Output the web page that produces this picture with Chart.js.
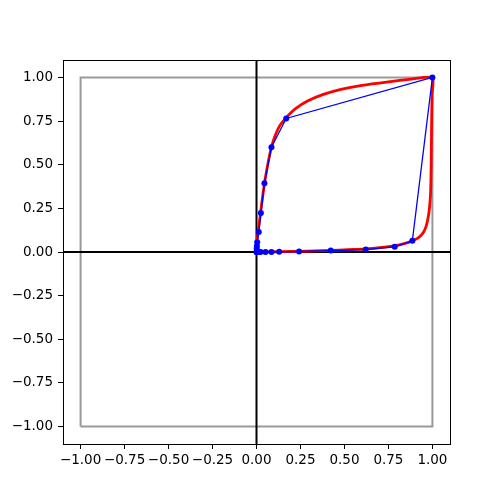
<!DOCTYPE html>
<html>
<head>
<meta charset="utf-8">
<script src="https://cdn.jsdelivr.net/npm/chart.js@4"></script>
<style>
  html, body { margin: 0; padding: 0; background: #fff; }
  canvas { display: block; }
</style>
</head>
<body>
<canvas id="myChart" width="500" height="500"></canvas>
<script>
'use strict';
// smooth curve (red)
const curveX = [0, 0.0005, 0.002, 0.006, 0.012, 0.02, 0.03, 0.045, 0.06, 0.08, 0.1, 0.13, 0.169, 0.22, 0.29, 0.38, 0.48, 0.6, 0.75, 0.88, 1,
  0.998, 0.995, 0.993, 0.99, 0.985, 0.978, 0.965, 0.95, 0.93, 0.91, 0.886, 0.84, 0.786, 0.7, 0.621, 0.52, 0.422, 0.33, 0.242, 0.15, 0.08, 0.03, 0];
const curveY = [0, 0.02, 0.05, 0.09, 0.14, 0.2, 0.28, 0.39, 0.48, 0.58, 0.65, 0.72, 0.77, 0.82, 0.865, 0.903, 0.932, 0.955, 0.975, 0.99, 1,
  0.9, 0.7, 0.5, 0.35, 0.27, 0.21, 0.15, 0.115, 0.09, 0.075, 0.064, 0.048, 0.036, 0.025, 0.018, 0.013, 0.009, 0.006, 0.004, 0.002, 0.001, 0, 0];

// sample points (blue)
const pointX = [0, 0.001, 0.002, 0.004, 0.013, 0.025, 0.045, 0.085, 0.169, 1, 0.886, 0.786, 0.621, 0.422, 0.242, 0.129, 0.085, 0.051, 0.023, 0.01, 0.003, 0];
const pointY = [0, 0.02, 0.035, 0.056, 0.115, 0.223, 0.394, 0.6, 0.765, 1, 0.064, 0.03, 0.014, 0.008, 0.003, 0.001, 0.0005, 0, 0, 0, 0, 0];

// square and axis lines
const squareX = [-1, 1, 1, -1, -1];
const squareY = [-1, -1, 1, 1, -1];
const hLineX = [-1.1, 1.1];
const hLineY = [0, 0];
const vLineX = [0, 0];
const vLineY = [-1.1, 1.1];

const tickValues = [-1, -0.75, -0.5, -0.25, 0, 0.25, 0.5, 0.75, 1];

function toPoints(xs, ys) {
  return xs.map((x, i) => ({ x: x, y: ys[i] }));
}

function fmt(v) {
  let s = Math.abs(v).toFixed(2);
  return v < 0 ? '\u2212' + s : s;
}

const frame = {
  id: 'frame',
  afterDraw(chart) {
    const a = chart.chartArea;
    const ctx = chart.ctx;
    ctx.save();
    ctx.strokeStyle = '#000';
    ctx.lineWidth = 1;
    ctx.strokeRect(Math.round(a.left) + 0.5, Math.round(a.top) + 0.5, Math.round(a.right - a.left), Math.round(a.bottom - a.top));
    ctx.restore();
  }
};

function lineSet(data, color, width, order) {
  return {
    data: data,
    showLine: true,
    borderColor: color,
    backgroundColor: color,
    borderWidth: width,
    pointRadius: 0,
    fill: false,
    order: order
  };
}

const ctx = document.getElementById('myChart').getContext('2d');
const chart = new Chart(ctx, {
  type: 'scatter',
  data: {
    datasets: [
      lineSet(toPoints(squareX, squareY), '#999999', 2, 5),
      lineSet(toPoints(hLineX, hLineY), '#000000', 2, 4),
      lineSet(toPoints(vLineX, vLineY), '#000000', 2, 4),
      Object.assign(lineSet(toPoints(curveX, curveY), '#ff0000', 2.8, 2), { tension: 0.2 }),
      {
        data: toPoints(pointX, pointY),
        showLine: true,
        borderColor: '#0000ff',
        backgroundColor: '#0000ff',
        borderWidth: 1.3,
        pointRadius: 3,
        pointBorderWidth: 0,
        fill: false,
        order: 1
      }
    ]
  },
  options: {
    responsive: false,
    animation: false,
    events: [],
    layout: { padding: { top: 60, right: 50, bottom: 0, left: 0 } },
    plugins: { legend: { display: false }, tooltip: { enabled: false } },
    scales: {
      x: {
        type: 'linear',
        min: -1.1,
        max: 1.1,
        afterBuildTicks: (s) => { s.ticks = tickValues.map(v => ({ value: v })); },
        afterFit: (s) => { s.height = 56; },
        ticks: {
          callback: fmt,
          color: '#000',
          font: { family: 'DejaVu Sans', size: 13.5 },
          maxRotation: 0,
          autoSkip: false,
          padding: 3
        },
        grid: { drawOnChartArea: false, drawTicks: true, tickLength: 5, tickColor: '#000' },
        border: { display: false }
      },
      y: {
        type: 'linear',
        min: -1.1,
        max: 1.1,
        afterBuildTicks: (s) => { s.ticks = tickValues.map(v => ({ value: v })); },
        afterFit: (s) => { s.width = 63; },
        ticks: {
          callback: fmt,
          color: '#000',
          font: { family: 'DejaVu Sans', size: 13.5 },
          autoSkip: false,
          padding: 5
        },
        grid: { drawOnChartArea: false, drawTicks: true, tickLength: 5, tickColor: '#000' },
        border: { display: false }
      }
    }
  },
  plugins: [frame]
});
</script>
</body>
</html>
